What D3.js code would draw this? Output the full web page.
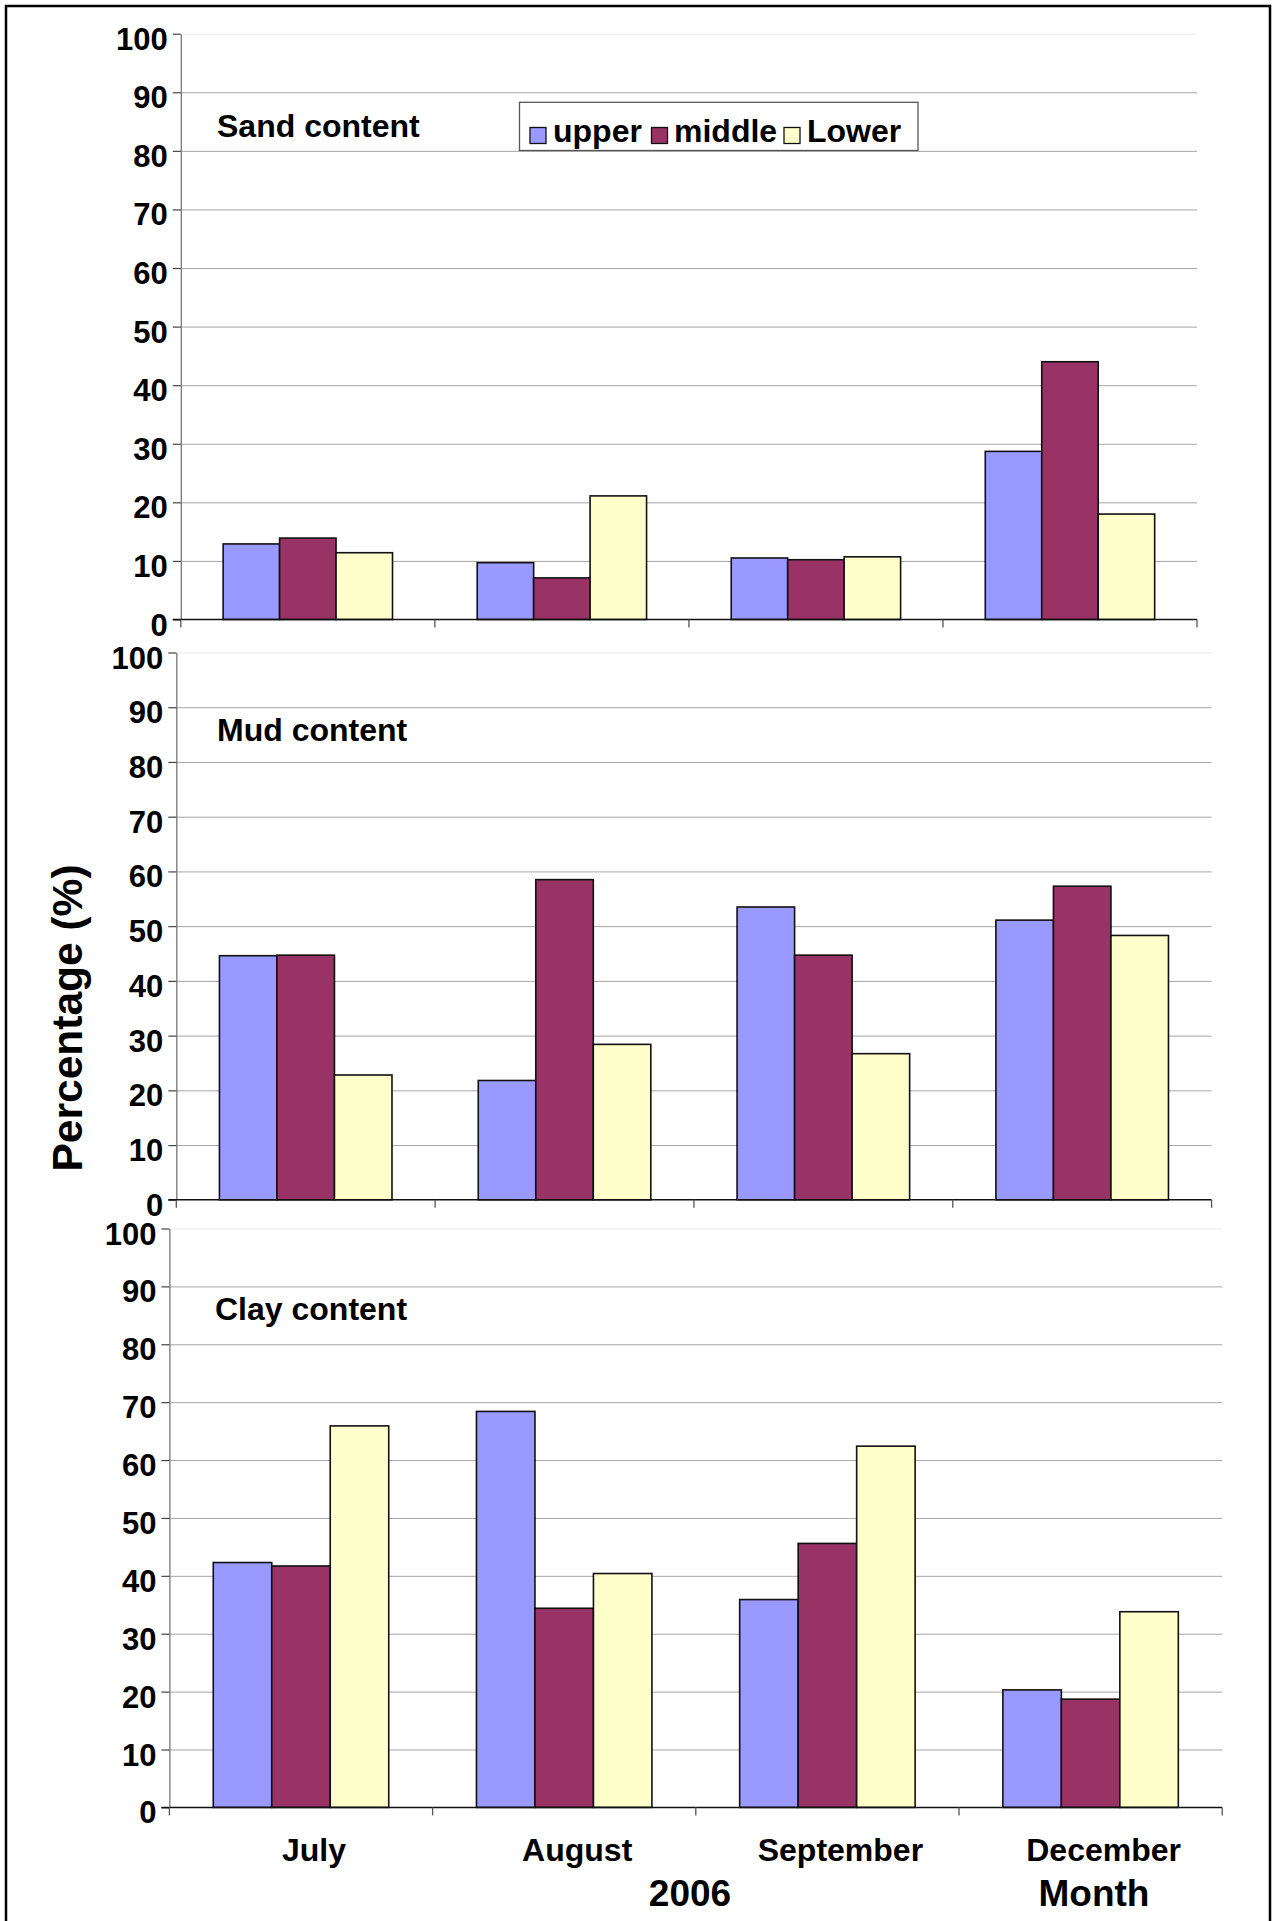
<!DOCTYPE html>
<html>
<head>
<meta charset="utf-8">
<script src="https://cdn.jsdelivr.net/npm/d3@7"></script>
<style>
  html, body { margin: 0; padding: 0; background: #fff; }
  svg { display: block; font-family: "Liberation Sans", Arial, Helvetica, sans-serif; font-weight: bold; }
</style>
</head>
<body>
<svg id="chart" width="1277" height="1921"></svg>
<script>
// Sediment grain-size fractions by month (2006), three sampling depths
const months = ["July", "August", "September", "December"];
const layers = ["upper", "middle", "Lower"];
const layerColors = ["#9999FF", "#993366", "#FFFFCC"];
const yTicks = [0, 10, 20, 30, 40, 50, 60, 70, 80, 90, 100];

const sandUpper  = [12.9, 9.7, 10.5, 28.7];
const sandMiddle = [13.9, 7.1, 10.2, 44.0];
const sandLower  = [11.4, 21.1, 10.7, 18.0];

const mudUpper  = [44.6, 21.8, 53.5, 51.1];
const mudMiddle = [44.7, 58.5, 44.7, 57.3];
const mudLower  = [22.8, 28.4, 26.7, 48.3];

const clayUpper  = [42.3, 68.4, 35.9, 20.3];
const clayMiddle = [41.7, 34.4, 45.6, 18.7];
const clayLower  = [65.9, 40.4, 62.4, 33.8];

const panelTitles = ["Sand content", "Mud content", "Clay content"];
const yTitle = "Percentage (%)";
const xTitleYear = "2006";
const xTitleMonth = "Month";

const panelSeries = [
  [sandUpper, sandMiddle, sandLower],
  [mudUpper, mudMiddle, mudLower],
  [clayUpper, clayMiddle, clayLower]
];

// Plot-area frames of the three stacked panels
const frames = [
  { left: 180.8, right: 1197, top: 33.7, bottom: 619.5, titleX: 217, titleY: 137 },
  { left: 176.3, right: 1211.6, top: 652.5, bottom: 1199.8, titleX: 217, titleY: 741 },
  { left: 169.4, right: 1222.2, top: 1228.5, bottom: 1807.4, titleX: 215, titleY: 1320 }
];

const svg = d3.select("#chart");

// outer frame
svg.append("rect")
  .attr("x", 6).attr("y", 6)
  .attr("width", 1264).attr("height", 1940)
  .attr("fill", "none").attr("stroke", "#000").attr("stroke-width", 2.5);

frames.forEach((f, pi) => {
  const g = svg.append("g");
  const x0 = d3.scaleBand().domain(months).range([f.left, f.right]).padding(0);
  const x1 = d3.scaleBand().domain(layers).range([0, x0.bandwidth()])
    .paddingInner(0).paddingOuter(0.75);
  const y = d3.scaleLinear().domain([0, 100]).range([f.bottom, f.top]);

  // horizontal gridlines
  g.append("g").selectAll("line")
    .data(yTicks.filter(t => t > 0))
    .join("line")
    .attr("x1", f.left).attr("x2", f.right)
    .attr("y1", d => y(d) + 0.5).attr("y2", d => y(d) + 0.5)
    .attr("stroke", d => d === 100 ? "#ebebeb" : "#a6a6a6")
    .attr("stroke-width", 1);

  // bars
  const series = panelSeries[pi];
  const bars = [];
  months.forEach((m, mi) => layers.forEach((l, li) => {
    bars.push({ month: m, layer: l, li, value: series[li][mi] });
  }));
  g.append("g").selectAll("rect")
    .data(bars)
    .join("rect")
    .attr("x", d => x0(d.month) + x1(d.layer))
    .attr("y", d => y(d.value))
    .attr("width", x1.bandwidth())
    .attr("height", d => y(0) - y(d.value))
    .attr("fill", d => layerColors[d.li])
    .attr("stroke", "#111")
    .attr("stroke-width", 1.6);

  // y axis
  const yAxis = d3.axisLeft(y).tickValues(yTicks).tickSizeInner(8).tickSizeOuter(0).tickPadding(5);
  const ya = g.append("g").attr("transform", `translate(${f.left},0)`).call(yAxis);
  ya.select(".domain").attr("stroke", "#777").attr("stroke-width", 1.3);
  ya.selectAll(".tick line").attr("stroke", "#444").attr("stroke-width", 1.2);
  ya.selectAll(".tick text")
    .attr("font-size", 31).attr("font-weight", "bold")
    .attr("font-family", "'Liberation Sans', Arial, sans-serif")
    .attr("fill", "#000").attr("dy", "0.5em");

  // x axis with boundary ticks between month groups
  const xa = g.append("g").attr("transform", `translate(0,${f.bottom})`);
  xa.append("line")
    .attr("x1", f.left - 8).attr("x2", f.right)
    .attr("y1", 0).attr("y2", 0)
    .attr("stroke", "#111").attr("stroke-width", 1.5);
  const bounds = months.map(m => x0(m)).concat([x0.range()[1]]);
  xa.selectAll("line.bt")
    .data(bounds)
    .join("line")
    .attr("class", "bt")
    .attr("x1", d => d).attr("x2", d => d)
    .attr("y1", 0).attr("y2", 8)
    .attr("stroke", "#555").attr("stroke-width", 1.3);

  // panel title
  g.append("text")
    .attr("x", f.titleX).attr("y", f.titleY)
    .attr("font-size", 32)
    .text(panelTitles[pi]);

  // month labels on the bottom panel only
  if (pi === 2) {
    g.append("g").selectAll("text")
      .data(months)
      .join("text")
      .attr("x", d => x0(d) + x0.bandwidth() / 2 + 13)
      .attr("y", 1861)
      .attr("text-anchor", "middle")
      .attr("font-size", 32)
      .text(d => d);
  }

  // legend in the sand panel
  if (pi === 0) {
    const lg = g.append("g");
    lg.append("rect")
      .attr("x", 519.5).attr("y", 102.3)
      .attr("width", 398.5).attr("height", 48.2)
      .attr("fill", "#fff").attr("stroke", "#555").attr("stroke-width", 1.3);
    const items = [
      { label: layers[0], sx: 530, tx: 553 },
      { label: layers[1], sx: 651.5, tx: 674 },
      { label: layers[2], sx: 784, tx: 807 }
    ];
    items.forEach((it, i) => {
      lg.append("rect")
        .attr("x", it.sx).attr("y", 127.5)
        .attr("width", 16).attr("height", 16)
        .attr("fill", layerColors[i]).attr("stroke", "#111").attr("stroke-width", 1.3);
      lg.append("text")
        .attr("x", it.tx).attr("y", 142)
        .attr("font-size", 32)
        .text(it.label);
    });
  }
});

// axis titles
svg.append("text")
  .attr("transform", "translate(82,1018) rotate(-90)")
  .attr("text-anchor", "middle")
  .attr("font-size", 42.5)
  .text(yTitle);

svg.append("text")
  .attr("x", 690).attr("y", 1906)
  .attr("text-anchor", "middle")
  .attr("font-size", 37)
  .text(xTitleYear);

svg.append("text")
  .attr("x", 1094).attr("y", 1906)
  .attr("text-anchor", "middle")
  .attr("font-size", 37)
  .text(xTitleMonth);
</script>
</body>
</html>
